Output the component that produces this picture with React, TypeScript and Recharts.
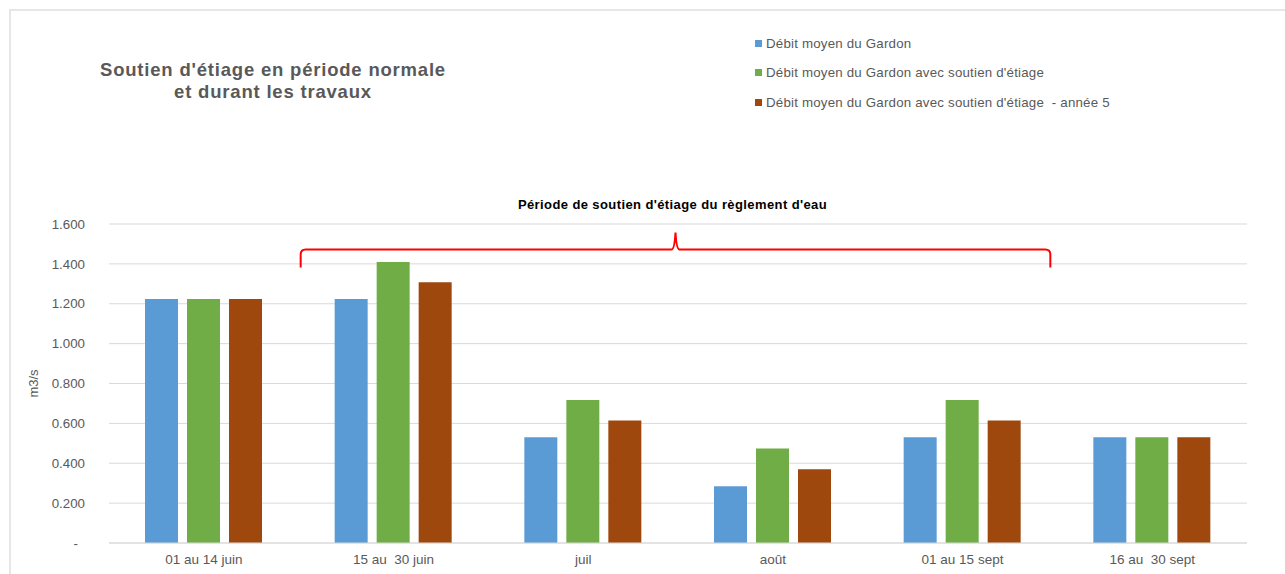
import React from 'react';
import { BarChart, Bar, XAxis, YAxis, CartesianGrid, ReferenceLine } from 'recharts';

// Periods of the low-water season (m3/s)
const periods = ['01 au 14 juin', '15 au\u00a0 30 juin', 'juil', 'août', '01 au 15 sept', '16 au\u00a0 30 sept'];
const debitMoyen = [1.224, 1.224, 0.53, 0.285, 0.53, 0.53];
const debitSoutien = [1.224, 1.41, 0.717, 0.474, 0.717, 0.53];
const debitSoutienAnnee5 = [1.224, 1.308, 0.615, 0.37, 0.615, 0.53];
const yTicks = [0, 0.2, 0.4, 0.6, 0.8, 1.0, 1.2, 1.4, 1.6];

const seriesNames = [
  'Débit moyen du Gardon',
  "Débit moyen du Gardon avec soutien d'étiage",
  "Débit moyen du Gardon avec soutien d'étiage  - année 5",
];
const seriesColors = ['#5b9bd5', '#70ad47', '#9e480e'];

// Bracket marking the regulated support period
const braceStart = periods[1];
const braceEnd = periods[5];
const braceLevel = 1.472;
const braceTitle = "Période de soutien d'étiage du règlement d'eau";

const data = periods.map((p, i) => ({
  period: p,
  moyen: debitMoyen[i],
  soutien: debitSoutien[i],
  annee5: debitSoutienAnnee5[i],
}));

const FONT = '"Liberation Sans", Arial, sans-serif';
const GREY = '#595959';

const YTick = (props: any) => {
  const { x, y, payload } = props;
  const v = payload.value as number;
  const label = v === 0 ? '-' : v.toFixed(3);
  return (
    <text x={v === 0 ? x - 7 : x} y={y} dy="0.355em" textAnchor="end" fill={GREY} fontSize={13.3} fontFamily={FONT}>
      {label}
    </text>
  );
};

const Brace = (props: any) => {
  const { x1, x2, y1 } = props;
  const xl = x1 + 2;
  const xr = x2 - 7;
  const xm = (xl + xr) / 2;
  const y = y1;
  const r = 5;
  const d = [
    `M ${xl} ${y + 18}`,
    `L ${xl} ${y + r}`,
    `Q ${xl} ${y} ${xl + r} ${y}`,
    `L ${xm - 4} ${y}`,
    `Q ${xm - 1} ${y} ${xm} ${y - 17}`,
    `Q ${xm + 1} ${y} ${xm + 4} ${y}`,
    `L ${xr - r} ${y}`,
    `Q ${xr} ${y} ${xr} ${y + r}`,
    `L ${xr} ${y + 18}`,
  ].join(' ');
  return (
    <g>
      <path d={d} fill="none" stroke="#ff0000" strokeWidth={2} />
      <text
        x={xm - 3}
        y={y - 41}
        textAnchor="middle"
        fontSize={13}
        letterSpacing={0.4}
        fontWeight="bold"
        fill="#000"
        fontFamily={FONT}
      >
        {braceTitle}
      </text>
    </g>
  );
};

const ChartLegend = () => (
  <div
    style={{
      position: 'absolute',
      left: 755,
      top: 35,
      fontFamily: FONT,
      fontSize: 13.3,
      letterSpacing: 0.2,
      color: GREY,
    }}
  >
    {seriesNames.map((n, i) => (
      <div
        key={n}
        style={{ display: 'flex', alignItems: 'center', height: 16, marginBottom: i < 2 ? 13.6 : 0, whiteSpace: 'pre' }}
      >
        <span style={{ display: 'inline-block', width: 7, height: 7, background: seriesColors[i], marginRight: 4 }} />
        <span>{n}</span>
      </div>
    ))}
  </div>
);

export default function App() {
  return (
    <div style={{ position: 'absolute', left: 0, top: 0, width: 1285, height: 574, overflow: 'hidden', background: '#fff' }}>
      <div
        style={{
          position: 'absolute',
          left: 9,
          top: 9,
          width: 1320,
          height: 620,
          borderLeft: '2px solid #e6e6e6',
          borderTop: '2px solid #e6e6e6',
        }}
      />
      <div
        style={{
          position: 'absolute',
          left: 73,
          top: 59,
          width: 400,
          textAlign: 'center',
          fontFamily: FONT,
          fontWeight: 'bold',
          fontSize: 18.5,
          letterSpacing: 0.8,
          lineHeight: '22px',
          color: GREY,
        }}
      >
        Soutien d'étiage en période normale
        <br />
        et durant les travaux
      </div>
      <ChartLegend />
      <div style={{ position: 'absolute', left: 0, top: 0 }}>
        <BarChart
          width={1285}
          height={574}
          data={data}
          margin={{ top: 224, right: 38, bottom: 1, left: 10 }}
          barSize={33}
          barGap={9}
        >
          <CartesianGrid vertical={false} stroke="#d9d9d9" strokeWidth={1} />
          <XAxis
            dataKey="period"
            height={30}
            axisLine={{ stroke: '#d9d9d9' }}
            tickLine={false}
            tickSize={0}
            tickMargin={11}
            tick={{ fill: GREY, fontSize: 13.5, fontFamily: FONT }}
            interval={0}
          />
          <YAxis
            width={99}
            domain={[0, 1.6]}
            ticks={yTicks}
            axisLine={false}
            tickLine={false}
            tickSize={0}
            tickMargin={24}
            tick={<YTick />}
            label={{
              content: (p: any) => {
                const vb = p.viewBox || {};
                const cx = (vb.x ?? 10) + 23;
                const cy = (vb.y ?? 224) + (vb.height ?? 319) / 2;
                return (
                  <text
                    x={cx}
                    y={cy}
                    transform={`rotate(-90, ${cx}, ${cy})`}
                    textAnchor="middle"
                    dominantBaseline="central"
                    fill={GREY}
                    fontSize={13}
                    fontFamily={FONT}
                  >
                    m3/s
                  </text>
                );
              },
            }}
          />
          <Bar dataKey="moyen" name={seriesNames[0]} fill={seriesColors[0]} isAnimationActive={false} />
          <Bar dataKey="soutien" name={seriesNames[1]} fill={seriesColors[1]} isAnimationActive={false} />
          <Bar dataKey="annee5" name={seriesNames[2]} fill={seriesColors[2]} isAnimationActive={false} />
          <ReferenceLine
            segment={[
              { x: braceStart, y: braceLevel },
              { x: braceEnd, y: braceLevel },
            ]}
            position="start"
            ifOverflow="visible"
            shape={<Brace />}
          />
        </BarChart>
      </div>
    </div>
  );
}
